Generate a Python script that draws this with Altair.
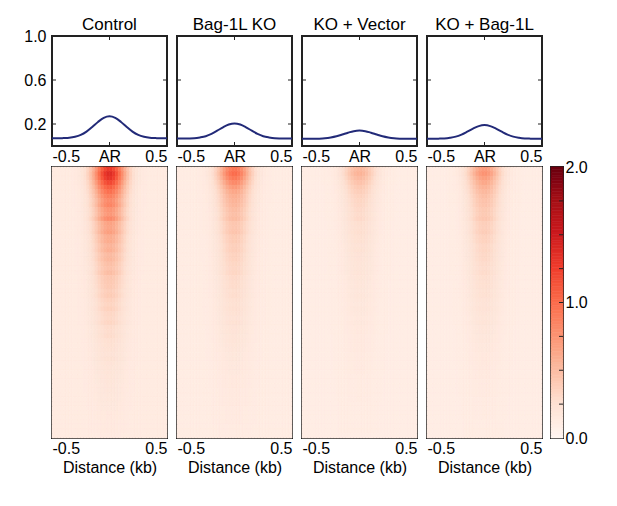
import altair as alt
import pandas as pd

# ---------------- data ----------------
panels = ["Control", "Bag-1L KO", "KO + Vector", "KO + Bag-1L"]

profile_x = [-0.5, -0.45, -0.4, -0.35, -0.3, -0.25, -0.2, -0.15, -0.1, -0.05, 0.0,
             0.05, 0.1, 0.15, 0.2, 0.25, 0.3, 0.35, 0.4, 0.45, 0.5]
profile_control = [0.070, 0.070, 0.072, 0.075, 0.084, 0.101, 0.131, 0.173, 0.219, 0.256, 0.270,
                   0.256, 0.219, 0.173, 0.131, 0.101, 0.084, 0.075, 0.072, 0.070, 0.070]
profile_ko = [0.068, 0.068, 0.069, 0.071, 0.078, 0.089, 0.110, 0.139, 0.170, 0.195, 0.205,
              0.195, 0.170, 0.139, 0.110, 0.089, 0.078, 0.071, 0.069, 0.068, 0.068]
profile_vector = [0.065, 0.065, 0.066, 0.067, 0.070, 0.077, 0.088, 0.104, 0.121, 0.135, 0.140,
                  0.135, 0.121, 0.104, 0.088, 0.077, 0.070, 0.067, 0.066, 0.065, 0.065]
profile_bag = [0.066, 0.066, 0.067, 0.069, 0.075, 0.085, 0.104, 0.130, 0.158, 0.181, 0.190,
               0.181, 0.158, 0.130, 0.104, 0.085, 0.075, 0.069, 0.067, 0.066, 0.066]
profiles = [profile_control, profile_ko, profile_vector, profile_bag]

# heatmap: 40 distance bins across -0.5..0.5, 60 region rows (sorted, strongest on top)
heat_col_shape = [0, 0, 0, 0, 0, 0, 0.003, 0.008, 0.016, 0.032, 0.06, 0.105, 0.172, 0.267,
                  0.389, 0.531, 0.682, 0.823, 0.932, 0.992,
                  0.992, 0.932, 0.823, 0.682, 0.531, 0.389, 0.267, 0.172, 0.105, 0.06,
                  0.032, 0.016, 0.008, 0.003, 0, 0, 0, 0, 0, 0]
heat_rows_control = [1.15, 1.25, 1.2, 1.08, 0.95, 0.85, 0.76, 0.68, 0.72, 0.62,
                     0.6, 0.68, 0.54, 0.52, 0.56, 0.47, 0.48, 0.42, 0.45, 0.38,
                     0.4, 0.35, 0.33, 0.36, 0.3, 0.29, 0.28, 0.25, 0.27, 0.23,
                     0.21, 0.23, 0.19, 0.18, 0.2, 0.16, 0.15, 0.16, 0.13, 0.12,
                     0.11, 0.1, 0.11, 0.09, 0.08, 0.08, 0.07, 0.07, 0.06, 0.06,
                     0.05, 0.05, 0.04, 0.04, 0.03, 0.03, 0.02, 0.02, 0.02, 0.01]
heat_rows_ko = [0.82, 0.88, 0.8, 0.7, 0.6, 0.52, 0.47, 0.44, 0.42, 0.38,
                0.36, 0.38, 0.32, 0.31, 0.33, 0.28, 0.28, 0.25, 0.26, 0.23,
                0.23, 0.21, 0.2, 0.21, 0.18, 0.17, 0.17, 0.15, 0.16, 0.14,
                0.13, 0.14, 0.12, 0.11, 0.12, 0.1, 0.1, 0.09, 0.09, 0.08,
                0.07, 0.06, 0.06, 0.05, 0.05, 0.05, 0.04, 0.04, 0.04, 0.03,
                0.03, 0.03, 0.03, 0.02, 0.02, 0.02, 0.02, 0.01, 0.01, 0.01]
heat_rows_vector = [0.42, 0.45, 0.4, 0.35, 0.3, 0.27, 0.24, 0.22, 0.21, 0.19,
                    0.18, 0.19, 0.16, 0.15, 0.16, 0.14, 0.14, 0.12, 0.13, 0.11,
                    0.11, 0.1, 0.1, 0.1, 0.09, 0.08, 0.08, 0.07, 0.08, 0.07,
                    0.06, 0.07, 0.06, 0.05, 0.06, 0.05, 0.05, 0.04, 0.04, 0.04,
                    0.04, 0.03, 0.03, 0.03, 0.03, 0.03, 0.02, 0.02, 0.02, 0.02,
                    0.02, 0.02, 0.01, 0.01, 0.01, 0.01, 0.01, 0.01, 0.01, 0.0]
heat_rows_bag = [0.6, 0.65, 0.58, 0.52, 0.46, 0.42, 0.38, 0.35, 0.34, 0.31,
                 0.3, 0.32, 0.27, 0.26, 0.28, 0.24, 0.24, 0.21, 0.22, 0.2,
                 0.2, 0.18, 0.17, 0.18, 0.16, 0.15, 0.15, 0.13, 0.14, 0.12,
                 0.11, 0.12, 0.1, 0.09, 0.1, 0.08, 0.08, 0.07, 0.07, 0.06,
                 0.06, 0.05, 0.05, 0.05, 0.04, 0.04, 0.04, 0.03, 0.03, 0.03,
                 0.03, 0.02, 0.02, 0.02, 0.02, 0.02, 0.01, 0.01, 0.01, 0.01]
heat_rows = [heat_rows_control, heat_rows_ko, heat_rows_vector, heat_rows_bag]
heat_bg = [0.12, 0.11, 0.10, 0.10]

profile_yticks = [0.2, 0.6, 1.0]
colorbar_labels = [0.0, 1.0, 2.0]
colorbar_minor = [0.25, 0.5, 0.75, 1.0, 1.25, 1.5, 1.75]

# Reds colour map stops (0 .. 2)
reds_domain = [0, 0.25, 0.5, 0.75, 1.0, 1.25, 1.5, 1.75, 2.0]
reds_range = ["#fff5f0", "#fee0d2", "#fcbba1", "#fc9272", "#fb6a4a",
              "#ef3b2c", "#cb181d", "#a50f15", "#67000d"]

# ---------------- style ----------------
FONT = "Liberation Sans"
LFS = 16   # tick label font size
TFS = 17   # panel title font size
W, PH, HH = 115, 110, 271
LINE = "#222a78"
FRAME = "#222222"
NROWS = len(heat_rows_control)
NCOLS = len(heat_col_shape)
BINW = 1.0 / NCOLS

color_scale = alt.Scale(domain=reds_domain, range=reds_range, clamp=True)
xscale = alt.Scale(domain=[-0.5, 0.5], nice=False, zero=False)
yscale = alt.Scale(domain=[0, 1], nice=False)
lab_expr = "datum.value == 0 ? 'AR' : (datum.value < 0 ? '-0.5' : '0.5')"


def profile_chart(i):
    df = pd.DataFrame({"x": profile_x, "y": profiles[i]})
    xaxis = alt.Axis(values=[-0.5, 0, 0.5], labelExpr=lab_expr, labelFlush=True,
                     ticks=False, domain=False, grid=False, labelPadding=2, title=None)
    if i == 0:
        yaxis = alt.Axis(values=profile_yticks, labelExpr="format(datum.value, '.1f')",
                         ticks=False, domain=False, grid=False, labelPadding=6, title=None)
        toff = 2 - LFS / 2
    else:
        yaxis = None
        toff = 2
    X = alt.X("x:Q", scale=xscale, axis=xaxis)
    Y = alt.Y("y:Q", scale=yscale, axis=yaxis)
    line = alt.Chart(df).mark_line(color=LINE, strokeWidth=2, interpolate="monotone").encode(
        x=X, y=Y)
    tdf = pd.DataFrame({"y": profile_yticks[:2]})
    left = alt.Chart(tdf).mark_rule(color=FRAME, strokeWidth=1).encode(
        y=Y, x=alt.value(0), x2=alt.value(4))
    right = alt.Chart(tdf).mark_rule(color=FRAME, strokeWidth=1).encode(
        y=Y, x=alt.value(W - 4), x2=alt.value(W))
    cdf = pd.DataFrame({"x": [0.0]})
    top = alt.Chart(cdf).mark_rule(color=FRAME, strokeWidth=1).encode(
        x=X, y=alt.value(0), y2=alt.value(4))
    bot = alt.Chart(cdf).mark_rule(color=FRAME, strokeWidth=1).encode(
        x=X, y=alt.value(PH - 4), y2=alt.value(PH))
    return alt.layer(line, left, right, top, bot).properties(
        width=W, height=PH,
        title=alt.TitleParams(panels[i], font=FONT, fontSize=TFS, fontWeight=400,
                              offset=toff, color="black", frame="group"))


def heat_chart(i):
    recs = []
    for r in range(NROWS):
        for c in range(NCOLS):
            x0 = -0.5 + c * BINW
            recs.append({"x": x0, "x2": x0 + BINW, "y": r, "y2": r + 1,
                         "v": heat_bg[i] + heat_rows[i][r] * heat_col_shape[c]})
    df = pd.DataFrame(recs)
    return alt.Chart(df).mark_rect(strokeWidth=0.6, opacity=1).encode(
        x=alt.X("x:Q", scale=xscale, title="Distance (kb)",
                axis=alt.Axis(values=[-0.5, 0.5], labelExpr=lab_expr, labelFlush=True,
                              ticks=False, domain=False, grid=False, labelPadding=2,
                              titlePadding=3)),
        x2="x2:Q",
        y=alt.Y("y:Q", scale=alt.Scale(domain=[0, NROWS], reverse=True, nice=False), axis=None),
        y2="y2:Q",
        color=alt.Color("v:Q", scale=color_scale, legend=None),
        stroke=alt.Stroke("v:Q", scale=color_scale, legend=None),
    ).properties(width=W, height=HH)


cols = [alt.vconcat(profile_chart(i), heat_chart(i), spacing=21, bounds="flush")
        for i in range(4)]

# colour bar
cb_df = pd.DataFrame({"v": [k * 0.02 for k in range(100)]})
cb_df["v2"] = cb_df["v"] + 0.02
CBY = alt.Y("v:Q", scale=alt.Scale(domain=[0, 2], nice=False), title=None,
            axis=alt.Axis(orient="right", values=colorbar_labels,
                          labelExpr="format(datum.value, '.1f')", ticks=False,
                          domain=False, grid=False, labelPadding=2))
cb_rect = alt.Chart(cb_df).mark_rect(strokeWidth=0.6, opacity=1).encode(
    y=CBY, y2="v2:Q",
    x=alt.value(0), x2=alt.value(12),
    color=alt.Color("v:Q", scale=color_scale, legend=None),
    stroke=alt.Stroke("v:Q", scale=color_scale, legend=None),
)
cb_ticks = alt.Chart(pd.DataFrame({"v": colorbar_minor})).mark_rule(
    color=FRAME, strokeWidth=1).encode(
    y=CBY, x=alt.value(8), x2=alt.value(12))
colorbar = alt.layer(cb_rect, cb_ticks).properties(width=12, height=HH)
blank = alt.Chart(pd.DataFrame({"a": [0]})).mark_point(opacity=0).encode(
    x=alt.value(0), y=alt.value(0)).properties(width=12, height=PH,
                                               view=alt.ViewConfig(stroke="transparent"))
cb_col = alt.vconcat(blank, colorbar, spacing=21, bounds="flush")

chart = alt.hconcat(*cols, cb_col, spacing=0).resolve_scale(
    color="shared", stroke="shared"
).properties(
    padding={"left": 14, "top": 6, "right": 5, "bottom": 5},
    background="white"
).configure_view(
    stroke=FRAME, strokeWidth=2
).configure_title(
    font=FONT, fontSize=TFS, fontWeight=400, color="black"
).configure_axis(
    labelFont=FONT, labelFontSize=LFS, labelColor="black",
    titleFont=FONT, titleFontSize=LFS, titleFontWeight="normal", titleColor="black"
)

chart.save("out.html", embed_options={"renderer": "svg", "actions": False})
